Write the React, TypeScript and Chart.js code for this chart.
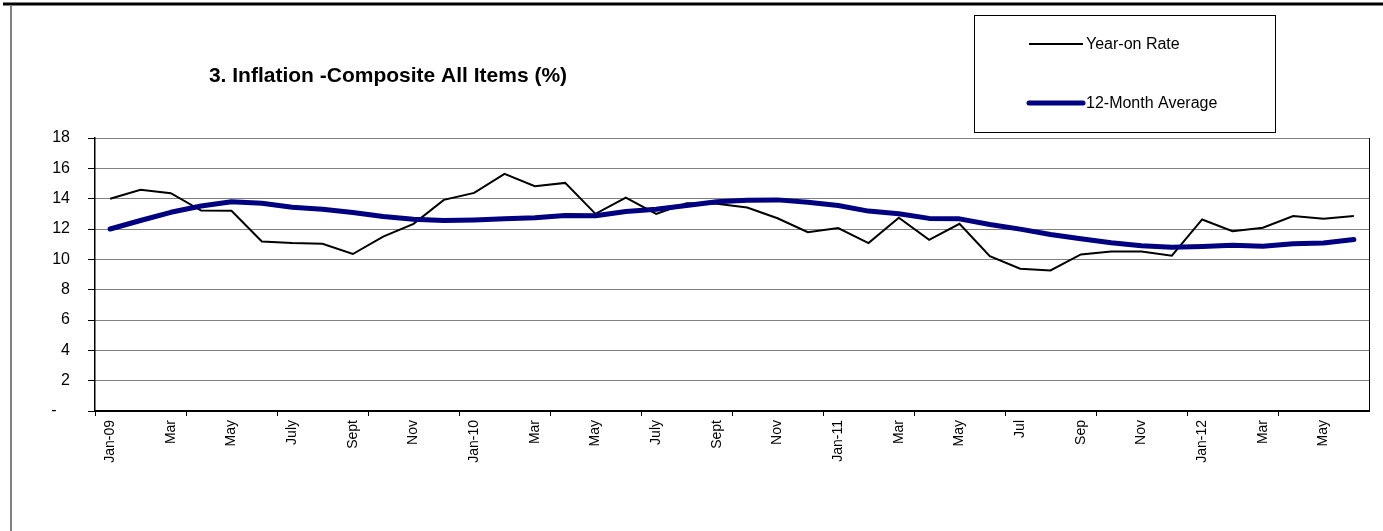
import React, { useEffect, useRef } from 'react';
import { Chart, registerables } from 'chart.js';

Chart.register(...registerables);

const months = [
  'Jan-09', 'Feb-09', 'Mar-09', 'Apr-09', 'May-09', 'Jun-09', 'Jul-09', 'Aug-09', 'Sep-09', 'Oct-09', 'Nov-09', 'Dec-09',
  'Jan-10', 'Feb-10', 'Mar-10', 'Apr-10', 'May-10', 'Jun-10', 'Jul-10', 'Aug-10', 'Sep-10', 'Oct-10', 'Nov-10', 'Dec-10',
  'Jan-11', 'Feb-11', 'Mar-11', 'Apr-11', 'May-11', 'Jun-11', 'Jul-11', 'Aug-11', 'Sep-11', 'Oct-11', 'Nov-11', 'Dec-11',
  'Jan-12', 'Feb-12', 'Mar-12', 'Apr-12', 'May-12', 'Jun-12',
];

const yearOnRate = [
  14.0, 14.58, 14.36, 13.22, 13.2, 11.18, 11.07, 11.03, 10.35, 11.5, 12.34, 13.92,
  14.38, 15.63, 14.82, 15.04, 13.0, 14.07, 13.0, 13.7, 13.66, 13.42, 12.71, 11.79,
  12.06, 11.07, 12.74, 11.29, 12.34, 10.21, 9.38, 9.27, 10.32, 10.52, 10.52, 10.24,
  12.63, 11.86, 12.08, 12.85, 12.67, 12.85,
];

const twelveMonthAverage = [
  12.0, 12.56, 13.1, 13.52, 13.79, 13.7, 13.44, 13.3, 13.09, 12.82, 12.65, 12.56,
  12.6, 12.67, 12.74, 12.89, 12.87, 13.15, 13.3, 13.55, 13.79, 13.9, 13.92, 13.77,
  13.55, 13.18, 13.0, 12.7, 12.67, 12.3, 11.99, 11.64, 11.36, 11.09, 10.89, 10.8,
  10.85, 10.93, 10.87, 11.03, 11.07, 11.31,
];

const xTickLabels = [
  'Jan-09', 'Mar', 'May', 'July', 'Sept', 'Nov',
  'Jan-10', 'Mar', 'May', 'July', 'Sept', 'Nov',
  'Jan-11', 'Mar', 'May', 'Jul', 'Sep', 'Nov',
  'Jan-12', 'Mar', 'May',
];

const yMin = 0;
const yMax = 18;
const yStep = 2;

const chartTitle = '3. Inflation -Composite All Items (%)';
const seriesNames = ['Year-on Rate', '12-Month Average'];
const seriesColors = ['#000000', '#000080'];

const FONT = "'Liberation Sans', Arial, sans-serif";

const decorPlugin = {
  id: 'decor',
  beforeDraw(chart: any) {
    const { ctx, width, height } = chart;
    ctx.save();
    ctx.fillStyle = '#ffffff';
    ctx.fillRect(0, 0, width, height);
    ctx.strokeStyle = '#000000';
    ctx.lineWidth = 3;
    ctx.beginPath();
    ctx.moveTo(3, 4);
    ctx.lineTo(width, 4);
    ctx.stroke();
    ctx.strokeStyle = '#808080';
    ctx.lineWidth = 2;
    ctx.beginPath();
    ctx.moveTo(11, 5);
    ctx.lineTo(11, height);
    ctx.stroke();
    ctx.restore();
  },
  afterDraw(chart: any) {
    const { ctx, chartArea } = chart;
    ctx.save();
    ctx.strokeStyle = '#000000';
    ctx.lineWidth = 1;
    ctx.beginPath();
    ctx.moveTo(Math.round(chartArea.right) + 0.5, chartArea.top);
    ctx.lineTo(Math.round(chartArea.right) + 0.5, chartArea.bottom);
    ctx.stroke();

    ctx.fillStyle = '#000000';
    ctx.font = `bold 21px ${FONT}`;
    ctx.textAlign = 'center';
    ctx.textBaseline = 'middle';
    ctx.fillText(chartTitle, 388, 76);

    ctx.lineWidth = 1;
    ctx.strokeStyle = '#000000';
    ctx.strokeRect(974.5, 15.5, 301, 117);
    const rows = [44, 103];
    const widths = [2, 5];
    ctx.font = `16px ${FONT}`;
    ctx.textAlign = 'left';
    for (let i = 0; i < 2; i++) {
      ctx.strokeStyle = seriesColors[i];
      ctx.lineWidth = widths[i];
      ctx.lineCap = i === 1 ? 'round' : 'butt';
      ctx.beginPath();
      ctx.moveTo(1029, rows[i]);
      ctx.lineTo(1083, rows[i]);
      ctx.stroke();
      ctx.fillStyle = '#000000';
      ctx.fillText(seriesNames[i], 1086, rows[i] + 1);
    }
    ctx.restore();
  },
};

export default function App() {
  const canvasRef = useRef<HTMLCanvasElement | null>(null);

  useEffect(() => {
    const canvas = canvasRef.current;
    if (!canvas) return;
    const chart = new Chart(canvas, {
      type: 'line',
      data: {
        labels: months,
        datasets: [
          {
            label: seriesNames[0],
            data: yearOnRate,
            borderColor: seriesColors[0],
            backgroundColor: seriesColors[0],
            borderWidth: 2,
            pointRadius: 0,
            tension: 0,
            order: 1,
          },
          {
            label: seriesNames[1],
            data: twelveMonthAverage,
            borderColor: seriesColors[1],
            backgroundColor: seriesColors[1],
            borderWidth: 5,
            borderCapStyle: 'round',
            borderJoinStyle: 'round',
            pointRadius: 0,
            tension: 0,
            order: 0,
          },
        ],
      },
      options: {
        responsive: false,
        animation: false,
        devicePixelRatio: 1,
        layout: { padding: { top: 138, right: 14, left: 0, bottom: 0 } },
        plugins: {
          legend: { display: false },
          title: { display: false },
          tooltip: { enabled: false },
        },
        scales: {
          x: {
            type: 'category',
            offset: true,
            afterFit: (scale: any) => {
              scale.height = 120;
            },
            grid: {
              display: true,
              drawOnChartArea: false,
              offset: true,
              tickLength: 5,
              color: (c: any) => (c.index % 3 === 0 ? '#000000' : 'rgba(0,0,0,0)'),
              tickColor: (c: any) => (c.index % 3 === 0 ? '#000000' : 'rgba(0,0,0,0)'),
            },
            border: { display: true, color: '#000000', width: 2 },
            ticks: {
              autoSkip: false,
              minRotation: 90,
              maxRotation: 90,
              padding: 4,
              color: '#000000',
              font: { family: FONT, size: 14 },
              callback: (_v: any, i: number) => (i % 2 === 0 ? xTickLabels[i / 2] : ''),
            },
          },
          y: {
            min: yMin,
            max: yMax,
            afterFit: (scale: any) => {
              scale.width = 95;
            },
            grid: {
              color: '#000000',
              lineWidth: 1,
              tickLength: 7,
              tickColor: '#000000',
            },
            border: { display: true, color: '#000000', width: 1.5, dash: [1, 1] },
            ticks: {
              stepSize: yStep,
              padding: 18,
              color: '#000000',
              font: { family: FONT, size: 16 },
              callback: (v: any) => (v === 0 ? '-   ' : String(v)),
            },
          },
        },
      },
      plugins: [decorPlugin],
    });
    return () => chart.destroy();
  }, []);

  return (
    <div style={{ position: 'fixed', left: 0, top: 0, width: 1383, height: 531, background: '#fff' }}>
      <canvas ref={canvasRef} width={1383} height={531} style={{ width: 1383, height: 531, display: 'block' }} />
    </div>
  );
}
